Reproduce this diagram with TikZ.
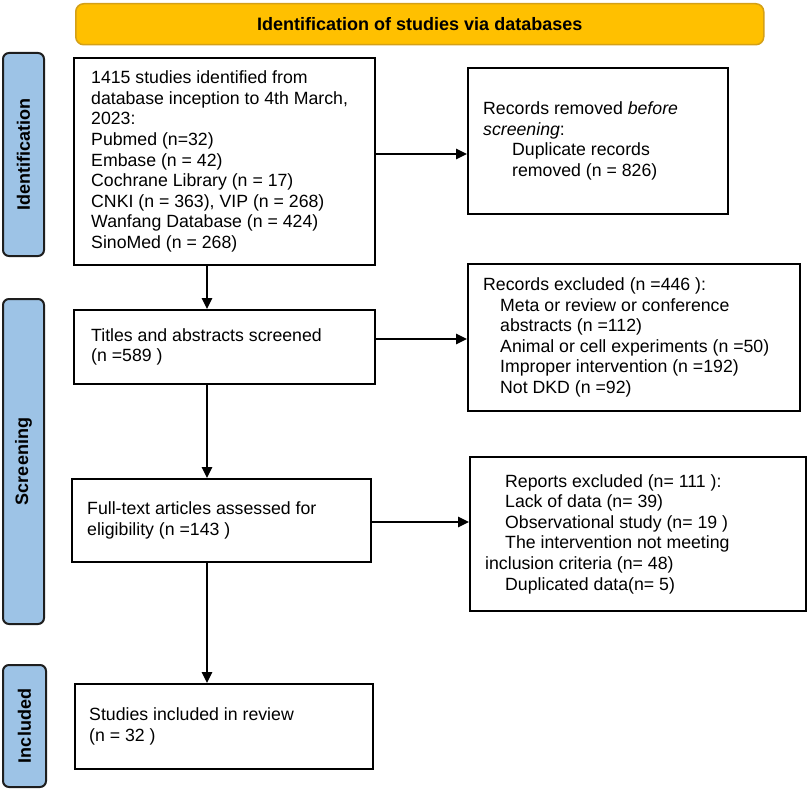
\documentclass[tikz,border=0pt]{standalone}
\usepackage{fontspec}
\setmainfont{Liberation Sans}
\usetikzlibrary{arrows.meta,calc}
\definecolor{bannerfill}{HTML}{FFC000}
\definecolor{bannerdraw}{HTML}{D4A017}
\definecolor{tabfill}{HTML}{9DC3E6}
\definecolor{tabdraw}{HTML}{1E1E1E}
\begin{document}
\begin{tikzpicture}[x=1pt,y=-1pt,
  box/.style={draw=black, line width=2pt, anchor=north west, inner sep=0pt},
  boxtxt/.style={anchor=west, align=left, inner sep=0pt, font=\fontsize{17.7}{20.6}\selectfont},
  tab/.style={draw=tabdraw, fill=tabfill, line width=2pt, rounded corners=6pt, rotate=90,
    font=\fontsize{18}{20}\selectfont\bfseries, inner sep=0pt},
  arr/.style={line width=1.3pt, -{Triangle[length=11pt,width=10.5pt]}}]
\useasboundingbox (0,0) rectangle (809,789);

% banner
\node[draw=bannerdraw, fill=bannerfill, line width=1.5pt, rounded corners=8pt,
  minimum width=688pt, minimum height=41pt, anchor=north west, inner sep=0pt,
  font=\fontsize{18}{20}\selectfont\bfseries] (banner) at (75,3)
  {Identification of studies via databases};

% side tabs
\node[tab, minimum width=203pt, minimum height=41pt] (tid) at (23.5,154.5) {Identification};
\node[tab, minimum width=325pt, minimum height=41pt] (tscr) at (23.5,461.5) {Screening};
\node[tab, minimum width=122pt, minimum height=43pt] (tinc) at (24.5,726) {Included};

% boxes
\node[box, minimum width=301pt, minimum height=207pt] (b1) at (73,57) {};
\node[box, minimum width=260pt, minimum height=146pt] (b2) at (467,67) {};
\node[box, minimum width=301pt, minimum height=74pt] (b3) at (73,309) {};
\node[box, minimum width=332pt, minimum height=147pt] (b4) at (467,263) {};
\node[box, minimum width=299pt, minimum height=83pt] (b5) at (71,478) {};
\node[box, minimum width=336pt, minimum height=154pt] (b6) at (469,456) {};
\node[box, minimum width=298pt, minimum height=85pt] (b7) at (74,683) {};

% texts
\node[boxtxt] (t1) at ($(b1.west)+(18,0)$)
  {1415 studies identified from\\
   database inception to 4th March,\\
   2023:\\
   Pubmed (n=32)\\
   Embase (n = 42)\\
   Cochrane Library (n = 17)\\
   CNKI (n = 363), VIP (n = 268)\\
   Wanfang Database (n = 424)\\
   SinoMed (n = 268)};

\node[boxtxt] (t2) at ($(b2.west)+(16,0)$)
  {Records removed \textit{before}\\
   \textit{screening}:\\
   \hspace*{29pt}Duplicate records\\
   \hspace*{29pt}removed (n = 826)};

\node[boxtxt] (t3) at ($(b3.west)+(18,0)$)
  {Titles and abstracts screened\\
   (n =589 )};

\node[boxtxt] (t4) at ($(b4.west)+(16,0)$)
  {Records excluded (n =446 ):\\
   \hspace*{17pt}Meta or review or conference\\
   \hspace*{17pt}abstracts (n =112)\\
   \hspace*{17pt}Animal or cell experiments (n =50)\\
   \hspace*{17pt}Improper intervention (n =192)\\
   \hspace*{17pt}Not DKD (n =92)};

\node[boxtxt] (t5) at ($(b5.west)+(16,0)$)
  {Full-text articles assessed for\\
   eligibility (n =143 )};

\node[boxtxt] (t6) at ($(b6.west)+(16,0)$)
  {\hspace*{20pt}Reports excluded (n= 111 ):\\
   \hspace*{20pt}Lack of data (n= 39)\\
   \hspace*{20pt}Observational study (n= 19 )\\
   \hspace*{20pt}The intervention not meeting\\
   inclusion criteria (n= 48)\\
   \hspace*{20pt}Duplicated data(n= 5)};

\node[boxtxt] (t7) at ($(b7.west)+(15,0)$)
  {Studies included in review\\
   (n = 32 )};

% connector guides
\coordinate (col) at (207,0);
\coordinate (r1) at (0,154);
\coordinate (r2) at (0,339);
\coordinate (r3) at (0,522);

% connectors
\draw[arr] (b1.south -| col) -- (b3.north -| col);
\draw[arr] (b3.south -| col) -- (b5.north -| col);
\draw[arr] (b5.south -| col) -- (b7.north -| col);
\draw[arr] (b1.east |- r1) -- (b2.west |- r1);
\draw[arr] (b3.east |- r2) -- (b4.west |- r2);
\draw[arr] (b5.east |- r3) -- (b6.west |- r3);
\end{tikzpicture}
\end{document}
